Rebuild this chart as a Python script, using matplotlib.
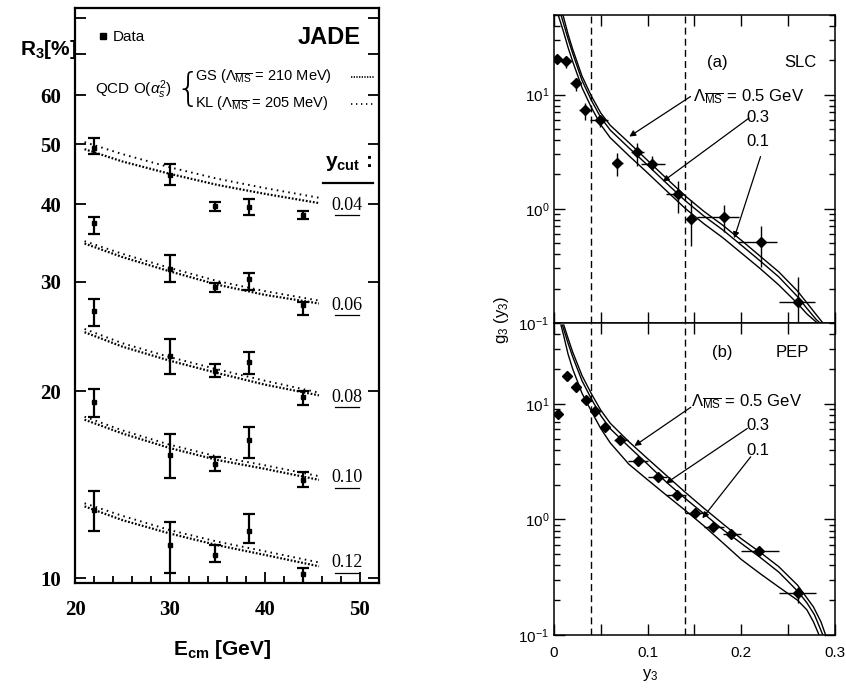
import matplotlib
matplotlib.use("Agg")
import matplotlib.pyplot as plt
import matplotlib.ticker as mticker

plt.rcParams['font.family'] = ['Liberation Sans', 'DejaVu Sans']
plt.rcParams['mathtext.fontset'] = 'custom'
plt.rcParams['mathtext.rm'] = 'Liberation Sans'
plt.rcParams['mathtext.it'] = 'Liberation Sans:italic'
plt.rcParams['mathtext.bf'] = 'Liberation Sans:bold'

# ─── JADE: R3 vs Ecm ──────────────────────────────────────────────────────────
YCUTS = ["0.04", "0.06", "0.08", "0.10", "0.12"]
E_DATA = [22.0, 30.0, 34.7, 38.3, 44.0]
R3 = {
    "0.04": [49.4, 44.6, 39.7, 39.6, 38.5],
    "0.06": [37.3, 31.5, 29.4, 30.3, 27.5],
    "0.08": [26.9, 22.8, 21.6, 22.3, 19.6],
    "0.10": [19.2, 15.8, 15.3, 16.7, 14.4],
    "0.12": [12.9, 11.3, 10.9, 11.9, 10.15],
}
R3_HI = {
    "0.04": [51.1, 46.4, 40.3, 40.8, 39.1],
    "0.06": [38.2, 33.2, 29.9, 31.0, 27.9],
    "0.08": [28.2, 24.3, 22.1, 23.1, 20.0],
    "0.10": [20.2, 17.1, 15.7, 17.5, 14.8],
    "0.12": [13.8, 12.3, 11.3, 12.7, 10.4],
}
R3_LO = {
    "0.04": [48.3, 43.0, 39.1, 38.5, 37.9],
    "0.06": [35.9, 30.0, 28.9, 29.1, 26.5],
    "0.08": [25.5, 21.3, 21.1, 21.3, 19.0],
    "0.10": [18.2, 14.5, 14.9, 15.6, 14.0],
    "0.12": [11.9, 10.2, 10.6, 11.4, 9.8],
}
E_THEORY = [21.0, 25.0, 30.0, 35.0, 40.0, 45.7]
R3_GS = {
    "0.04": [49.1, 46.9, 44.8, 43.0, 41.6, 40.2],
    "0.06": [34.6, 32.9, 31.2, 29.7, 28.6, 27.7],
    "0.08": [24.9, 23.6, 22.4, 21.4, 20.5, 19.7],
    "0.10": [18.0, 17.1, 16.2, 15.5, 15.0, 14.4],
    "0.12": [13.05, 12.4, 11.8, 11.3, 10.9, 10.45],
}
R3_KL = {
    "0.04": [50.4, 48.2, 45.9, 44.0, 42.5, 41.0],
    "0.06": [34.9, 33.3, 31.6, 30.1, 29.0, 28.0],
    "0.08": [25.2, 23.9, 22.7, 21.7, 20.8, 19.9],
    "0.10": [18.2, 17.3, 16.4, 15.7, 15.2, 14.6],
    "0.12": [13.2, 12.6, 11.95, 11.45, 11.05, 10.6],
}
YCUT_LABEL_Y = [0.657, 0.483, 0.323, 0.183, 0.035]   # axes fraction

# ─── g3(y3): SLC (a) and PEP (b) ──────────────────────────────────────────────
SLC_Y3 = [0.003, 0.013, 0.023, 0.033, 0.049, 0.067, 0.089, 0.105, 0.132, 0.146, 0.181, 0.221, 0.261]
SLC_G3 = [20.6, 19.6, 12.7, 7.4, 5.96, 2.5, 3.12, 2.48, 1.35, 0.81, 0.845, 0.51, 0.154]
SLC_Y3_LO = [0.0, 0.008, 0.0175, 0.027, 0.038, 0.062, 0.082, 0.093, 0.1195, 0.143, 0.153, 0.196, 0.240]
SLC_Y3_HI = [0.0075, 0.017, 0.028, 0.038, 0.0574, 0.074, 0.0965, 0.118, 0.139, 0.153, 0.1975, 0.238, 0.279]
SLC_G3_LO = [19.6, 17.1, 10.7, 6.0, 5.2, 1.92, 2.35, 2.2, 0.92, 0.47, 0.63, 0.31, 0.096]
SLC_G3_HI = [21.6, 21.6, 14.0, 8.5, 6.5, 3.08, 3.77, 2.9, 1.74, 1.2, 1.08, 0.70, 0.255]

PEP_Y3 = [0.004, 0.014, 0.024, 0.034, 0.044, 0.054, 0.071, 0.090, 0.111, 0.131, 0.151, 0.170, 0.189, 0.219, 0.260]
PEP_G3 = [8.1, 17.4, 14.0, 10.8, 8.7, 6.25, 4.86, 3.23, 2.35, 1.62, 1.13, 0.86, 0.75, 0.53, 0.229]
PEP_Y3_LO = [0.004, 0.014, 0.024, 0.034, 0.044, 0.054, 0.0645, 0.0787, 0.100, 0.120, 0.140, 0.160, 0.180, 0.200, 0.240]
PEP_Y3_HI = [0.004, 0.014, 0.024, 0.034, 0.044, 0.054, 0.0787, 0.100, 0.121, 0.141, 0.160, 0.181, 0.200, 0.240, 0.280]
PEP_G3_LO = [7.7, 16.6, 13.3, 10.3, 8.3, 5.95, 4.6, 3.07, 2.22, 1.53, 1.06, 0.80, 0.70, 0.49, 0.19]
PEP_G3_HI = [8.5, 18.2, 14.7, 11.3, 9.1, 6.55, 5.1, 3.4, 2.48, 1.71, 1.20, 0.92, 0.80, 0.57, 0.26]

# theory curves, Lambda_MSbar = 0.5 / 0.3 / 0.1 GeV
A05_X = [0.0096, 0.015, 0.02, 0.03, 0.04, 0.05, 0.06, 0.08, 0.10, 0.12, 0.14, 0.16, 0.18, 0.20, 0.22, 0.24, 0.26, 0.27, 0.28, 0.287]
A05_Y = [50, 34, 25, 14.5, 9.7, 6.9, 5.4, 3.8, 2.65, 1.85, 1.3, 0.95, 0.72, 0.53, 0.385, 0.28, 0.19, 0.15, 0.118, 0.10]
A03_X = [0.0075, 0.015, 0.02, 0.03, 0.04, 0.05, 0.06, 0.08, 0.10, 0.12, 0.14, 0.16, 0.18, 0.20, 0.22, 0.24, 0.26, 0.27, 0.28, 0.284]
A03_Y = [50, 31, 23, 13.3, 8.9, 6.3, 4.9, 3.42, 2.41, 1.68, 1.18, 0.865, 0.655, 0.48, 0.35, 0.253, 0.17, 0.134, 0.107, 0.10]
A01_X = [0.0045, 0.01, 0.015, 0.02, 0.03, 0.04, 0.05, 0.06, 0.08, 0.10, 0.12, 0.14, 0.16, 0.18, 0.20, 0.22, 0.24, 0.26, 0.27, 0.281]
A01_Y = [50, 36, 26, 19.5, 11.5, 7.7, 5.45, 4.2, 2.92, 2.06, 1.44, 1.01, 0.74, 0.56, 0.41, 0.30, 0.215, 0.148, 0.12, 0.10]

B05_X = [0.0105, 0.015, 0.02, 0.03, 0.04, 0.05, 0.06, 0.08, 0.10, 0.12, 0.14, 0.16, 0.18, 0.20, 0.22, 0.24, 0.26, 0.277, 0.285, 0.290]
B05_Y = [48, 37, 28, 17.5, 12.2, 8.8, 6.8, 4.7, 3.35, 2.4, 1.72, 1.25, 0.92, 0.68, 0.52, 0.39, 0.27, 0.175, 0.13, 0.10]
B03_X = [0.009, 0.015, 0.02, 0.03, 0.04, 0.05, 0.06, 0.08, 0.10, 0.12, 0.14, 0.16, 0.18, 0.20, 0.22, 0.24, 0.26, 0.27, 0.278, 0.283, 0.287]
B03_Y = [48, 33.5, 25.5, 15.8, 11.0, 7.9, 6.1, 4.25, 3.0, 2.1, 1.52, 1.12, 0.82, 0.62, 0.47, 0.35, 0.24, 0.19, 0.15, 0.12, 0.10]
B01_X = [0.0075, 0.01, 0.015, 0.02, 0.03, 0.04, 0.05, 0.06, 0.08, 0.10, 0.12, 0.14, 0.16, 0.18, 0.20, 0.22, 0.24, 0.26, 0.27, 0.277, 0.283]
B01_Y = [48, 40, 27, 20, 12.3, 8.6, 6.1, 4.6, 3.0, 2.2, 1.62, 1.2, 0.88, 0.63, 0.45, 0.34, 0.26, 0.20, 0.165, 0.13, 0.10]

CUTS_Y3 = [0.04, 0.14]


def asym(vals, lo, hi):
    return [[v - l for v, l in zip(vals, lo)], [h - v for v, h in zip(vals, hi)]]


fig = plt.figure(figsize=(8.46, 6.90), dpi=100)

# ─── left panel ───────────────────────────────────────────────────────────────
ax = fig.add_axes([0.0887, 0.155, 0.359, 0.833])
ax.set_yscale('log')
ax.set_xlim(20, 52)
ax.set_ylim(9.82, 82.8)

for yc in YCUTS:
    ax.plot(E_THEORY, R3_GS[yc], color='k', lw=1.6, ls=(0, (0.8, 0.8)), zorder=2)
    ax.plot(E_THEORY, R3_KL[yc], color='k', lw=1.4, ls=(0, (0.8, 2.2)), zorder=2)
    ax.errorbar(E_DATA, R3[yc], yerr=asym(R3[yc], R3_LO[yc], R3_HI[yc]),
                fmt='s', color='k', ms=3.5, elinewidth=1.6, capsize=4,
                capthick=1.6, zorder=3)

for yc, fy in zip(YCUTS, YCUT_LABEL_Y):
    ax.text(0.895, fy, yc, transform=ax.transAxes, ha='center', va='center',
            family='Liberation Serif', fontsize=13)
    ax.plot([0.855, 0.935], [fy - 0.017, fy - 0.017], transform=ax.transAxes,
            color='k', lw=0.9, clip_on=False)

ax.text(0.9, 0.73, r'$\mathbf{y_{cut}}$ :', transform=ax.transAxes, ha='center',
        va='center', fontsize=15, weight='bold')
ax.plot([0.816, 0.98], [0.696, 0.696], transform=ax.transAxes, color='k', lw=1.6)

ax.plot([0.092], [0.952], 's', color='k', ms=4, transform=ax.transAxes)
ax.text(0.125, 0.95, 'Data', transform=ax.transAxes, va='center', fontsize=11)
ax.text(0.94, 0.95, 'JADE', transform=ax.transAxes, ha='right', va='center',
        fontsize=17, weight='bold')
ax.text(0.065, 0.858, r'QCD O($\alpha_s^2$)', transform=ax.transAxes, va='center',
        fontsize=11)
ax.text(0.372, 0.858, '{', transform=ax.transAxes, va='center', ha='center',
        fontsize=28, family='DejaVu Sans', weight='light')
ax.text(0.395, 0.882, r'GS ($\Lambda_{\overline{\rm MS}}$ = 210 MeV)',
        transform=ax.transAxes, va='center', fontsize=10.5)
ax.text(0.395, 0.835, r'KL ($\Lambda_{\overline{\rm MS}}$ = 205 MeV)',
        transform=ax.transAxes, va='center', fontsize=10.5)
ax.plot([0.91, 0.985], [0.880, 0.880], transform=ax.transAxes, color='k',
        lw=1.2, ls=(0, (0.8, 0.8)))
ax.plot([0.91, 0.985], [0.834, 0.834], transform=ax.transAxes, color='k',
        lw=1.2, ls=(0, (0.8, 2.2)))

ax.set_yticks([10, 20, 30, 40, 50, 60, 70, 80])
ax.set_yticklabels(['10', '20', '30', '40', '50', '60', '', ''])
ax.yaxis.set_minor_locator(mticker.NullLocator())
ax.set_xticks([20, 30, 40, 50])
ax.xaxis.set_minor_locator(mticker.MultipleLocator(2))
ax.tick_params(which='both', direction='in', right=True, width=1.3)
ax.tick_params(which='major', length=8)
ax.tick_params(which='minor', length=5)
ax.tick_params(axis='y', pad=10)
ax.tick_params(axis='x', pad=12)
for lab in ax.get_xticklabels() + ax.get_yticklabels():
    lab.set_family('Liberation Serif')
    lab.set_weight('bold')
    lab.set_fontsize(15)
for sp in ax.spines.values():
    sp.set_linewidth(1.6)

fig.text(0.024, 0.928, r'$\mathbf{R_3}$[%]', fontsize=15, weight='bold', va='center')
fig.text(0.262, 0.058, r'$\mathbf{E_{cm}}$ [GeV]', fontsize=15, weight='bold',
         ha='center', va='center')

# ─── right panels ─────────────────────────────────────────────────────────────
axA = fig.add_axes([0.6548, 0.532, 0.3322, 0.4464])
axB = fig.add_axes([0.6548, 0.0797, 0.3322, 0.4522])

panels = [
    (axA, SLC_Y3, SLC_G3, SLC_Y3_LO, SLC_Y3_HI, SLC_G3_LO, SLC_G3_HI,
     [(A05_X, A05_Y), (A03_X, A03_Y), (A01_X, A01_Y)], '(a)', 'SLC'),
    (axB, PEP_Y3, PEP_G3, PEP_Y3_LO, PEP_Y3_HI, PEP_G3_LO, PEP_G3_HI,
     [(B05_X, B05_Y), (B03_X, B03_Y), (B01_X, B01_Y)], '(b)', 'PEP'),
]

# label / arrow placements (axes fraction)
LAYOUT = {
    '(a)': dict(tag=(0.582, 0.847), name=(0.876, 0.847), lam=(0.493, 0.734),
                l3=(0.684, 0.666), l1=(0.684, 0.588),
                arrows=[((0.486, 0.735), (0.268, 0.605)),
                        ((0.694, 0.665), (0.387, 0.459)),
                        ((0.735, 0.540), (0.641, 0.275))]),
    '(b)': dict(tag=(0.599, 0.904), name=(0.848, 0.904), lam=(0.486, 0.747),
                l3=(0.684, 0.670), l1=(0.684, 0.590),
                arrows=[((0.487, 0.730), (0.286, 0.606)),
                        ((0.688, 0.662), (0.398, 0.486)),
                        ((0.700, 0.571), (0.528, 0.374))]),
}

for (a, x, y, xlo, xhi, ylo, yhi, curves, tag, name) in panels:
    a.set_yscale('log')
    a.set_xlim(0, 0.3)
    a.set_ylim(0.1, 50)
    for cx, cy in curves:
        a.plot(cx, cy, color='k', lw=1.0)
    for c in CUTS_Y3:
        a.axvline(c, color='k', lw=1.0, ls=(0, (5, 3)))
    a.errorbar(x, y, xerr=asym(x, xlo, xhi), yerr=asym(y, ylo, yhi),
               fmt='D', color='k', ms=5, elinewidth=1.0, capsize=0, zorder=3)
    lay = LAYOUT[tag]
    a.text(*lay['tag'], tag, transform=a.transAxes, ha='center', va='center', fontsize=12)
    a.text(*lay['name'], name, transform=a.transAxes, ha='center', va='center', fontsize=12)
    a.text(*lay['lam'], r'$\Lambda_{\overline{\rm MS}}$ = 0.5 GeV', transform=a.transAxes,
           ha='left', va='center', fontsize=12)
    a.text(*lay['l3'], '0.3', transform=a.transAxes, ha='left', va='center', fontsize=12)
    a.text(*lay['l1'], '0.1', transform=a.transAxes, ha='left', va='center', fontsize=12)
    for start, end in lay['arrows']:
        a.annotate('', xy=end, xytext=start, xycoords='axes fraction',
                   textcoords='axes fraction',
                   arrowprops=dict(arrowstyle='-|>', lw=0.9, color='k',
                                   mutation_scale=9, shrinkA=0, shrinkB=0))
    a.xaxis.set_major_locator(mticker.MultipleLocator(0.05))
    a.tick_params(which='both', direction='in', top=True, right=True, width=1.0,
                  labelsize=11)
    a.tick_params(which='major', length=8)
    a.tick_params(which='minor', length=4)
    for sp in a.spines.values():
        sp.set_linewidth(1.1)

axA.tick_params(labelbottom=False)
axB.xaxis.set_major_formatter(mticker.FuncFormatter(
    lambda v, p: '0' if abs(v) < 1e-9 else ('%.1f' % v if abs(v * 10 - round(v * 10)) < 1e-6 else '')))
axB.tick_params(axis='x', pad=8)

fig.text(0.593, 0.536, r'g$_3$ (y$_3$)', rotation=90, ha='center', va='center', fontsize=12)
fig.text(0.768, 0.022, r'y$_3$', ha='center', va='center', fontsize=12)

fig.savefig('out.png', dpi=100)
